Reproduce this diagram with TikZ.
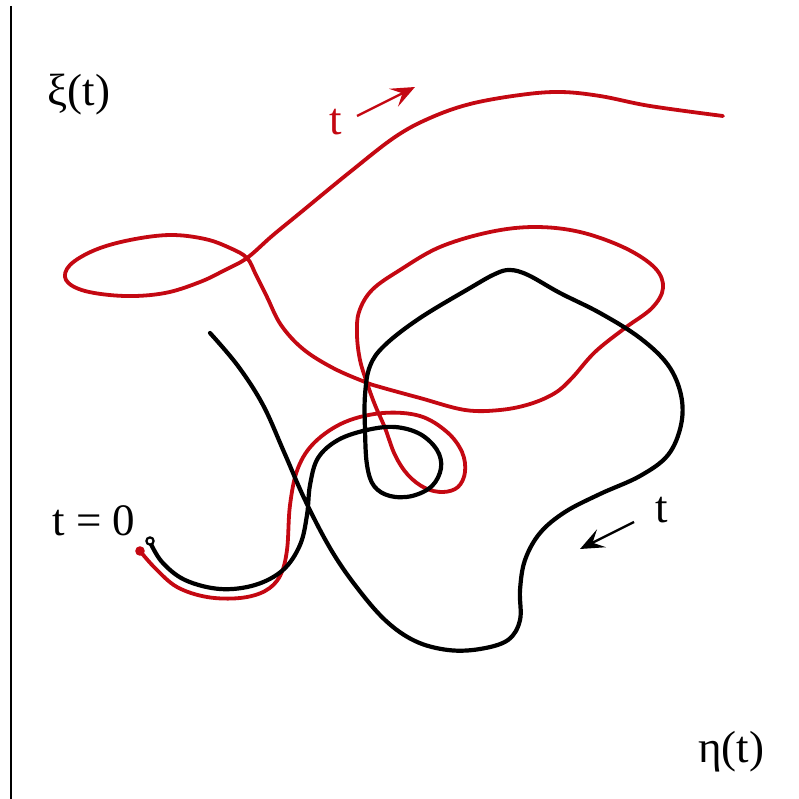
\documentclass[tikz,border=0pt]{standalone}
\usepackage{fontspec}
\setmainfont{Liberation Serif}
\usetikzlibrary{arrows.meta}
\definecolor{cred}{RGB}{196,8,18}
\tikzset{
  redpath/.style={draw=cred, line width=3.8pt, line cap=round, line join=round},
  blackpath/.style={draw=black, line width=4.2pt, line cap=round, line join=round},
  lbl/.style={font=\fontsize{45}{52}\selectfont, inner sep=0pt},
  tarrow/.style={line width=2.4pt, -{Stealth[length=24pt,width=20pt,inset=10pt]}}
}
\begin{document}
\begin{tikzpicture}[x=1pt,y=-1pt]
\useasboundingbox (0,0) rectangle (798,799);
% frame line
\draw[line width=2.4pt] (11,6) -- (11,799);
% labels
\node[lbl] (xi) at (79,95) {ξ(t)};
\node[lbl] (eta) at (731,752) {η(t)};
\node[lbl] (t0) at (94,521) {t = 0};
\node[lbl, text=cred] (tr) at (336,122) {t};
\node[lbl] (tb) at (662,510) {t};
% arrows
\coordinate (ra1) at (357,116);
\coordinate (ra2) at (415,87);
\coordinate (ba1) at (634,522);
\coordinate (ba2) at (580,549);
\draw[tarrow, cred] (ra1) -- (ra2);
\draw[tarrow, black] (ba1) -- (ba2);
% red curve
\draw[redpath] plot[smooth, tension=0.6] coordinates {
 (140,551) (155,568) (177,587) (207,597) (240,598) (265,591) (280,576)
 (287,550) (290,505) (298,468) (315,442) (345,422) (383,413) (420,416)
 (447,432) (462,452) (465,472) (458,487) (443,492) (425,488) (408,475)
 (395,455) (385,428) (375,405) (367,383) (360,360) (357,335) (359,312)
 (372,290) (400,270) (440,247) (490,232) (535,227) (580,232) (625,248)
 (655,268) (663,288) (652,308) (625,328) (595,352) (572,378) (555,393)
 (530,404) (500,410) (465,410) (420,398) (380,387) (365,382) (333,368)
 (303,349) (281,325) (267,297) (256,275) (247,258) (230,248) (205,239)
 (170,235) (130,240) (95,250) (70,265) (66,280) (85,291) (125,296)
 (165,293) (200,282) (225,270) (247,258) (272,236) (300,213) (350,172)
 (395,137) (430,118) (470,104) (520,95) (560,92) (600,96) (650,106)
 (723,116)};
% black curve
\draw[blackpath] plot[smooth, tension=0.6] coordinates {
 (150,542) (162,562) (185,580) (220,589) (255,585) (283,570) (300,545)
 (307,515) (310,485) (318,458) (338,440) (367,430) (395,427) (420,434)
 (437,450) (441,468) (432,486) (412,496) (390,496) (374,486) (367,465)
 (365,430) (365,395) (370,366) (385,345) (420,318) (470,288) (495,274)
 (510,270) (528,275) (560,293) (600,313) (640,338) (668,365) (681,395)
 (681,425) (668,455) (640,476) (600,494) (565,512) (540,533) (525,560)
 (520,590) (520,620) (508,640) (480,649) (448,650) (415,641) (385,620)
 (355,585) (330,548) (305,500) (284,452) (263,405) (238,366) (210,333)};
% start markers
\fill[cred] (140,551) circle (4.8pt);
\draw[line width=2.2pt, fill=white] (150,541) circle (3.6pt);
\end{tikzpicture}
\end{document}
